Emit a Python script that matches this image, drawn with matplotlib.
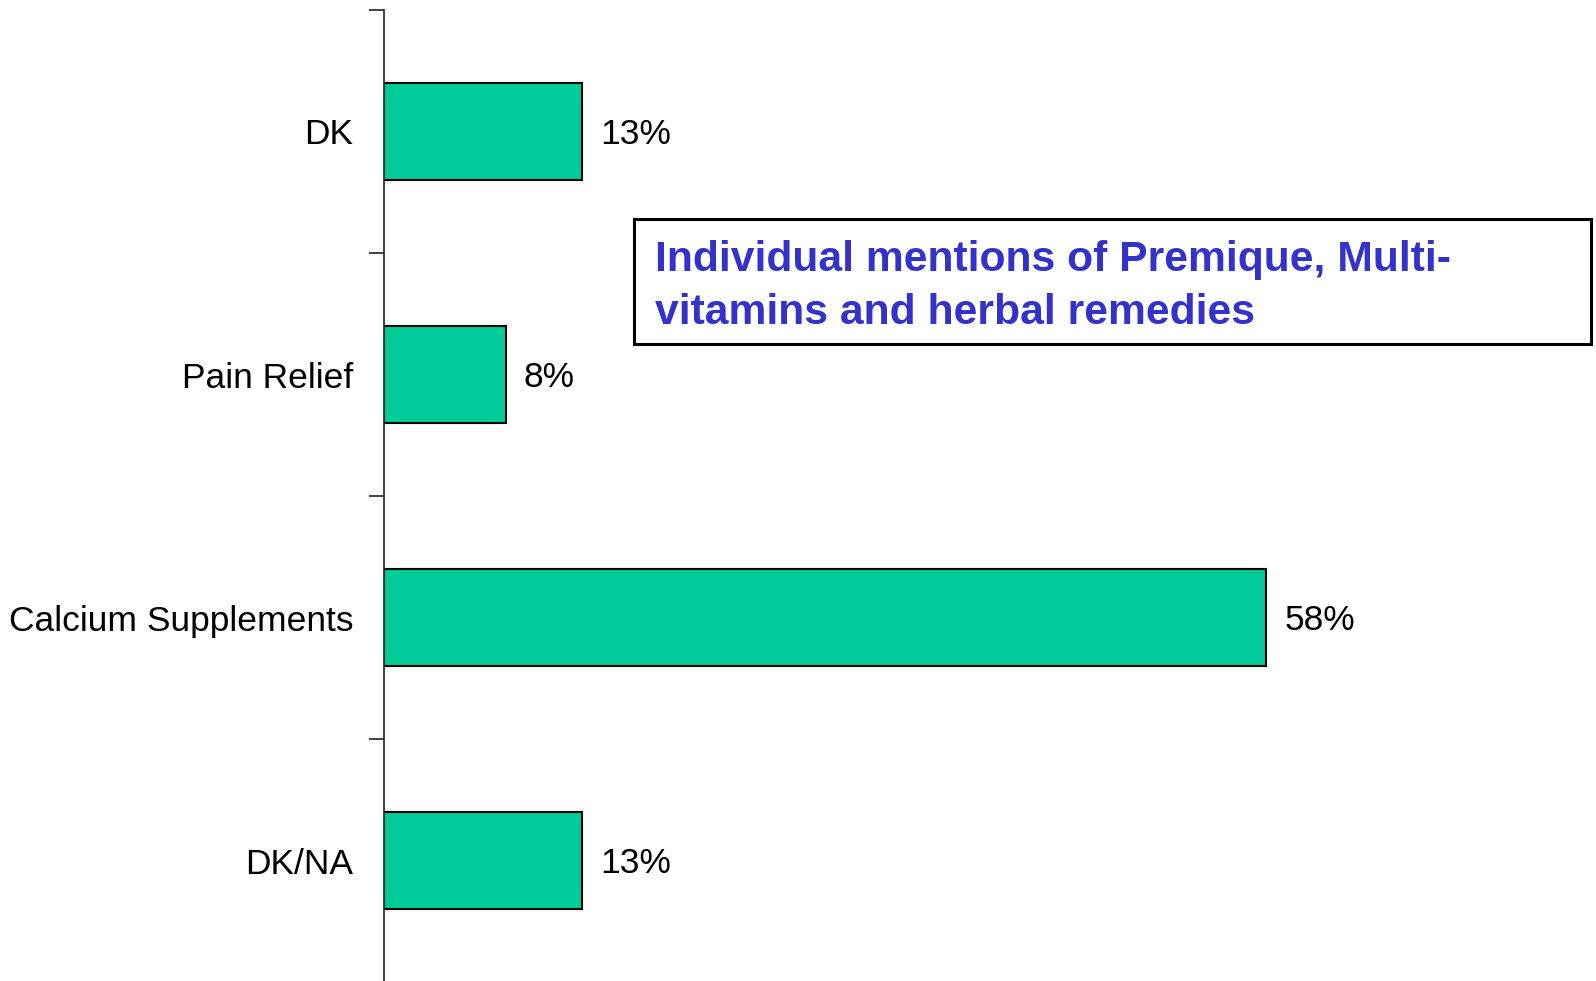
import matplotlib.pyplot as plt
from matplotlib.patches import Rectangle

plt.rcParams['font.family'] = ['Liberation Sans', 'DejaVu Sans']

categories = ['DK', 'Pain Relief', 'Calcium Supplements', 'DK/NA']
values = [13, 8, 58, 13]
note = 'Individual mentions of Premique, Multi-\nvitamins and herbal remedies'

fig = plt.figure(figsize=(15.96, 9.81), dpi=100)
ax = fig.add_axes([384 / 1596, -1 / 981, 1 - 384 / 1596, 972 / 981])

pos = range(len(categories))
ax.barh(pos, values, height=0.4, color='#00CC99', edgecolor='black', linewidth=1.5)
for p, v in zip(pos, values):
    ax.text(v + 1.2, p + 0.012, f'{v}%', va='center', ha='left', fontsize=25.5)

ax.set_xlim(0, 79.7)
ax.set_ylim(3.5, -0.5)

ax.set_yticks(list(pos))
ax.set_yticklabels(categories, fontsize=25.5)
ax.tick_params(axis='y', which='major', length=0, pad=22)
ax.set_yticks([-0.5, 0.5, 1.5, 2.5, 3.5], minor=True)
ax.tick_params(axis='y', which='minor', length=11, width=1.3, color='#333333')
ax.set_xticks([])

for s in ['top', 'right', 'bottom']:
    ax.spines[s].set_visible(False)
ax.spines['left'].set_color('#333333')
ax.spines['left'].set_linewidth(1.3)

# annotation box
box = Rectangle((634 / 1596, 1 - 344 / 981), (1591 - 634) / 1596, (344 - 219) / 981,
                transform=fig.transFigure, facecolor='white', edgecolor='black',
                linewidth=2.2, zorder=5)
fig.patches.append(box)
fig.text(655 / 1596, 1 - 286.5 / 981, note, ha='left', va='center',
         fontsize=30.7, fontweight='bold', color='#3333CC', linespacing=1.42, zorder=6)

fig.savefig('out.png', dpi=100)
plt.close()
